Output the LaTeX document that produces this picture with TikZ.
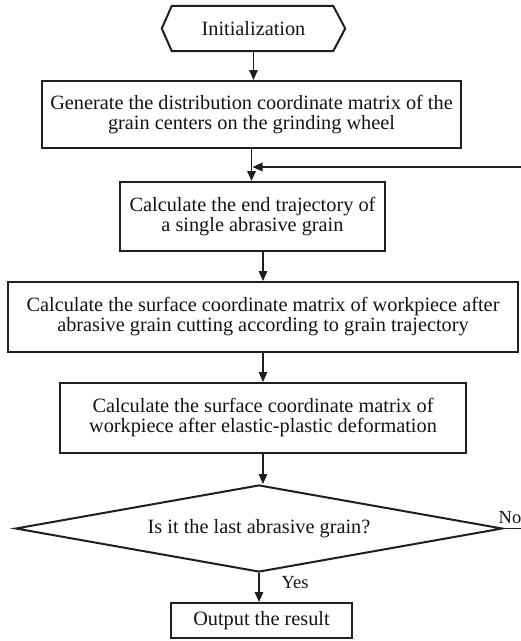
\documentclass[tikz,border=0pt]{standalone}
\usepackage{fontspec}
\setmainfont{Liberation Serif}
\usetikzlibrary{shapes.geometric,arrows.meta}
\begin{document}
\begin{tikzpicture}[x=1pt,y=-1pt,
  box/.style={draw=black!88, line width=2pt, fill=white, align=center, inner sep=0pt,
    font=\fontsize{20.3}{20}\selectfont, text=black!92},
  conn/.style={draw=black!88, line width=1.4pt, -{Triangle[length=10pt,width=8.5pt]}},
  plain/.style={draw=black!88, line width=1.4pt},
  lbl/.style={font=\fontsize{20.3}{20}\selectfont, text=black!92, inner sep=0pt}]
\useasboundingbox (0,0) rectangle (521,641);
% start terminal (hexagon)
\node[lbl, minimum width=183pt, minimum height=45pt] (init) at (253.5,28.5) {Initialization};
\draw[draw=black!88, line width=2pt, line join=miter]
  (init.west) -- ([xshift=10pt]init.north west) -- ([xshift=-12pt]init.north east)
  -- (init.east) -- ([xshift=-12pt]init.south east) -- ([xshift=10pt]init.south west) -- cycle;
% process boxes
\node[box, minimum width=419pt, minimum height=67pt] (gen) at (251.5,114.5)
  {Generate the distribution coordinate matrix of the\\grain centers on the grinding wheel};
\node[box, minimum width=265pt, minimum height=69pt] (traj) at (252.5,216.5)
  {Calculate the end trajectory of\\a single abrasive grain};
\node[box, minimum width=510pt, minimum height=70pt] (cut) at (263,317)
  {Calculate the surface coordinate matrix of workpiece after\\abrasive grain cutting according to grain trajectory};
\node[box, minimum width=406pt, minimum height=70pt] (elas) at (263,418)
  {Calculate the surface coordinate matrix of\\workpiece after elastic-plastic deformation};
\node[box, shape=diamond, aspect=5.6, minimum width=487pt, minimum height=87pt] (dec) at (259,528.5)
  {Is it the last abrasive grain?};
\node[box, minimum width=181pt, minimum height=35pt] (out) at (261.5,620.5) {Output the result};
% loop ends at picture edge
\coordinate (loopin) at (521,167);
\coordinate (loopout) at (521,528.5);
% connectors
\draw[conn] (init.south) -- (init.south |- gen.north);
\draw[conn] (gen.south) -- (gen.south |- traj.north);
\draw[conn] (loopin) -- (loopin -| traj.north);
\draw[conn] (traj.south -| cut.north) -- (cut.north);
\draw[conn] (cut.south) -- (elas.north);
\draw[conn] (elas.south) -- (elas.south |- dec.north);
\draw[conn] (dec.south) -- (dec.south |- out.north);
\draw[plain] (dec.east) -- (loopout);
% labels
\node[lbl, font=\fontsize{18.5}{18}\selectfont] (yes) at (295,583) {Yes};
\node[lbl, font=\fontsize{18.5}{18}\selectfont] (no) at (510,518) {No};
\end{tikzpicture}
\end{document}
